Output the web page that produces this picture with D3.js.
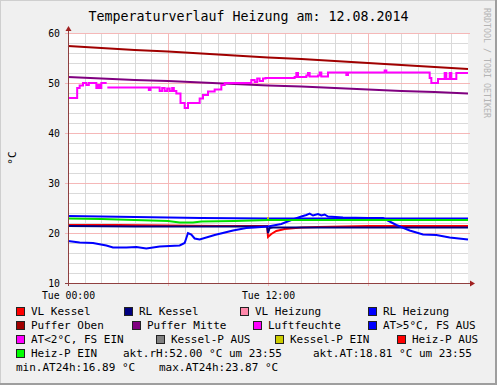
<!DOCTYPE html>
<html>
<head>
<meta charset="utf-8" />
<script src="https://cdn.jsdelivr.net/npm/d3@7"></script>
<style>
    body { margin: 0; background: #f0f0f0; }
    text { font-family: "DejaVu Sans Mono", monospace; }
</style>
</head>
<body>
<svg width="497" height="385"></svg>
<script>
// hours since Tue 00:00 -> value
var pufferOben = [[0,57.4],[2,57.0],[4,56.6],[6,56.3],[8,55.9],[10,55.5],[12,55.1],[14,54.8],[16,54.4],[18,54.0],[20,53.6],[22,53.2],[24,52.8]];
var pufferMitte = [[0,51.2],[2,50.9],[4,50.6],[6,50.4],[8,50.1],[10,49.8],[12,49.5],[14,49.3],[16,49.0],[18,48.7],[20,48.4],[22,48.2],[24,47.9]];
var luftfeuchte = [[0,47],[0.55,49],[0.7,49.5],[0.9,50],[1.1,49.6],[1.25,50],[1.7,49.0],[1.8,49.6],[1.9,49.0],[2.0,50],[2.32,50],[2.33,NaN],
    [2.36,49.1],[4.85,48.6],[4.95,49.1],[5.5,48.4],[5.65,49],[5.8,48.4],[5.95,48.9],[6.1,48.4],[6.25,49],[6.35,48.4],[6.5,47.9],[6.75,46],
    [7.0,45],[7.2,46],[7.9,46.9],[8.1,47.6],[8.4,48.3],[8.8,48.7],[9.2,49.6],[9.4,50],[11.0,50.6],[11.2,50.2],[11.35,50.9],[11.5,50.4],
    [11.7,50.9],[11.85,51],[13.6,51.2],[13.7,52],[13.8,51.2],[14.3,51.5],[14.4,52],[14.5,51.3],[15.0,51.5],[15.1,52.1],[15.2,51.3],
    [15.6,52.1],[16.7,51.6],[16.8,52.1],[19.0,52.5],[19.1,52.1],[21.7,51],[21.8,50],[22.2,50.8],[22.6,52],[22.7,50.8],[22.9,52],
    [23.0,50.8],[23.3,52],[24,52]];
var vlKessel = [[0,21.6],[3,21.6],[6,21.5],[9,21.4],[11.95,21.4],[12.0,19.2],[12.2,19.8],[12.5,20.4],[13,20.8],[14,21.1],[15,21.2],[18,21.4],[24,21.4]];
var rlKessel = [[0,21.4],[4,21.3],[8,21.3],[11.95,21.3],[12.0,20.0],[12.1,21.0],[12.3,21.1],[18,21.1],[24,21.1]];
var rlHeizung = [[0,23.4],[4,23.2],[8,23.0],[12,22.9],[16,22.9],[20,22.9],[24,22.9]];
var heizPEin = [[0,22.9],[2,22.8],[4,22.6],[6,22.4],[6.7,22.1],[7.5,22.1],[8,22.3],[10,22.4],[12,22.6],[16,22.6],[20,22.6],[24,22.6]];
var kesselPEin = [[11.95,23.0],[12.05,23.0]];
var aussenTemp = [[0,18.4],[0.7,18.1],[1.5,18.0],[2.3,17.5],[2.7,17.1],[3.5,17.1],[4.1,17.2],[4.7,16.9],[5.5,17.3],[6.1,17.4],[6.7,17.5],
    [7.0,18.0],[7.2,20.0],[7.4,19.7],[7.6,18.9],[7.9,18.7],[8.8,19.6],[9.9,20.5],[10.7,21.0],[11.2,21.1],[12,21.3],[12.8,21.8],
    [13.4,22.6],[14,23.3],[14.3,23.6],[14.5,23.87],[14.7,23.5],[15.0,23.8],[15.2,23.5],[15.4,23.7],[15.6,23.3],[16.5,23.1],
    [18.0,23.0],[18.9,23.0],[19.7,21.6],[20.5,20.5],[21.3,19.7],[22.1,19.6],[22.9,19.1],[24,18.7]];

var yTicks = [10, 20, 30, 40, 50, 60];
var xLabels = [[0, "Tue 00:00"], [12, "Tue 12:00"]];

var legendRows = [
    [["VL Kessel", "#ff0000"], ["RL Kessel", "#000080"], ["VL Heizung", "#ff88aa"], ["RL Heizung", "#0000ff"]],
    [["Puffer Oben", "#a00000"], ["Puffer Mitte", "#800080"], ["Luftfeuchte", "#ff00ff"], ["AT>5°C, FS AUS", "#0000ff"]],
    [["AT<2°C, FS EIN", "#ff00ff"], ["Kessel-P AUS", "#808080"], ["Kessel-P EIN", "#cccc00"], ["Heiz-P AUS", "#ff0000"]],
    [["Heiz-P EIN", "#00ff00"], ["akt.rH:52.00 °C um 23:55", null], ["akt.AT:18.81 °C um 23:55", null]],
    [["min.AT24h:16.89 °C", null], ["max.AT24h:23.87 °C", null]]
];
var legendX = [[16, 124, 240, 368], [16, 132, 253, 368], [16, 156, 275, 397], [16, 123, 313], [16, 159]];

var svg = d3.select("svg");
var W = 497, H = 385;

// frame (rrdtool shade)
svg.append("rect").attr("width", W).attr("height", H).attr("fill", "#f0f0f0");
svg.append("path").attr("d", "M0,385V0H497").attr("fill", "none").attr("stroke", "#cfcfcf").attr("stroke-width", 2);
svg.append("path").attr("d", "M0,384H496V0").attr("fill", "none").attr("stroke", "#9e9e9e").attr("stroke-width", 2);

var x = d3.scaleLinear().domain([0, 24]).range([68, 468]);
var y = d3.scaleLinear().domain([10, 60]).range([283, 33]);

svg.append("rect").attr("x", x(0)).attr("y", y(60)).attr("width", x(24) - x(0)).attr("height", y(10) - y(60)).attr("fill", "#fff");

// grid
var grid = svg.append("g").attr("shape-rendering", "crispEdges");
grid.selectAll(".hmin").data(d3.range(12, 60, 2).filter(function (d) { return d % 10; }))
    .enter().append("line")
    .attr("x1", x(0)).attr("x2", x(24))
    .attr("y1", function (d) { return Math.round(y(d)) + 0.5; }).attr("y2", function (d) { return Math.round(y(d)) + 0.5; })
    .attr("stroke", "#dadada");
grid.selectAll(".vmin").data(d3.range(1, 24).filter(function (d) { return d % 6; }))
    .enter().append("line")
    .attr("y1", y(10)).attr("y2", y(60))
    .attr("x1", function (d) { return Math.round(x(d)) + 0.5; }).attr("x2", function (d) { return Math.round(x(d)) + 0.5; })
    .attr("stroke", "#dadada");
grid.selectAll(".hmaj").data(yTicks.slice(1))
    .enter().append("line")
    .attr("x1", x(0) - 3).attr("x2", x(24) + 2)
    .attr("y1", function (d) { return Math.round(y(d)) + 0.5; }).attr("y2", function (d) { return Math.round(y(d)) + 0.5; })
    .attr("stroke", "#f5b8b8");
grid.selectAll(".vmaj").data([6, 12, 18])
    .enter().append("line")
    .attr("y1", y(10) + 3).attr("y2", y(60))
    .attr("x1", function (d) { return Math.round(x(d)) + 0.5; }).attr("x2", function (d) { return Math.round(x(d)) + 0.5; })
    .attr("stroke", "#f5b8b8");

// series
function draw(data, color, w, curve) {
    var line = d3.line()
        .defined(function (d) { return !isNaN(d[1]); })
        .x(function (d) { return x(d[0]); })
        .y(function (d) { return y(d[1]); })
        .curve(curve || d3.curveLinear);
    svg.append("path").datum(data).attr("d", line)
        .attr("fill", "none").attr("stroke", color).attr("stroke-width", w)
        .attr("stroke-linejoin", "miter");
}
draw(vlKessel, "#ff0000", 2);
draw(rlKessel, "#000080", 2);
draw(rlHeizung, "#0000ff", 2);
draw(pufferOben, "#a00000", 2);
draw(pufferMitte, "#800080", 2);
draw(luftfeuchte, "#ff00ff", 2, d3.curveStepAfter);
draw(aussenTemp, "#0000ff", 2);
draw(kesselPEin, "#cccc00", 2);
draw(heizPEin, "#00e000", 2);

// axes
var yAxis = svg.append("g").attr("transform", "translate(" + x(0) + ",0)")
    .call(d3.axisLeft(y).tickValues(yTicks).tickSize(0).tickPadding(8).tickFormat(d3.format("d")));
yAxis.select(".domain").remove();
yAxis.selectAll("text").attr("font-size", "9.8px").attr("fill", "#000").attr("dy", "0.35em")
    .style("font-family", "DejaVu Sans Mono");

var xAxis = svg.append("g").attr("transform", "translate(0," + y(10) + ")")
    .call(d3.axisBottom(x).tickValues(xLabels.map(function (d) { return d[0]; })).tickSize(0).tickPadding(9)
        .tickFormat(function (d) { return xLabels.find(function (l) { return l[0] === d; })[1]; }));
xAxis.select(".domain").remove();
xAxis.selectAll("text").attr("font-size", "9.8px").attr("fill", "#000").style("font-family", "DejaVu Sans Mono");

svg.append("line").attr("x1", x(0) + 0.5).attr("x2", x(0) + 0.5).attr("y1", y(10) + 3).attr("y2", y(60) - 3)
    .attr("stroke", "#904040").attr("shape-rendering", "crispEdges");
svg.append("line").attr("x1", x(0) - 3).attr("x2", x(24) + 3).attr("y1", y(10) + 0.5).attr("y2", y(10) + 0.5)
    .attr("stroke", "#904040").attr("shape-rendering", "crispEdges");
svg.append("path").attr("d", "M" + (x(0) - 2.5) + "," + (y(60) - 2) + "L" + (x(0) + 0.5) + "," + (y(60) - 7) + "L" + (x(0) + 3.5) + "," + (y(60) - 2) + "Z")
    .attr("fill", "#a02020");
svg.append("path").attr("d", "M" + (x(24) + 2) + "," + (y(10) - 2.5) + "L" + (x(24) + 7) + "," + (y(10) + 0.5) + "L" + (x(24) + 2) + "," + (y(10) + 3.5) + "Z")
    .attr("fill", "#a02020");

// title, unit, watermark
svg.append("text").attr("x", 248.5).attr("y", 21).attr("text-anchor", "middle")
    .attr("font-size", "13.3px").text("Temperaturverlauf Heizung am: 12.08.2014");
svg.append("text").attr("transform", "translate(16,158) rotate(-90)").attr("text-anchor", "middle")
    .attr("font-size", "11px").text("°C");
svg.append("text").attr("transform", "translate(484,8) rotate(90)")
    .attr("font-size", "8.3px").attr("fill", "#b4b4b4").text("RRDTOOL / TOBI OETIKER");

// legend
var leg = svg.append("g");
legendRows.forEach(function (row, r) {
    var base = 315 + r * 14;
    row.forEach(function (item, i) {
        var lx = legendX[r][i];
        var tx = lx;
        if (item[1]) {
            leg.append("rect").attr("x", lx + 0.5).attr("y", base - 7.5).attr("width", 8).attr("height", 8)
                .attr("fill", item[1]).attr("stroke", "#222").attr("shape-rendering", "crispEdges");
            tx = lx + 15;
        }
        leg.append("text").attr("x", tx).attr("y", base).attr("font-size", "11px").attr("fill", "#000").text(item[0]);
    });
});
</script>
</body>
</html>
